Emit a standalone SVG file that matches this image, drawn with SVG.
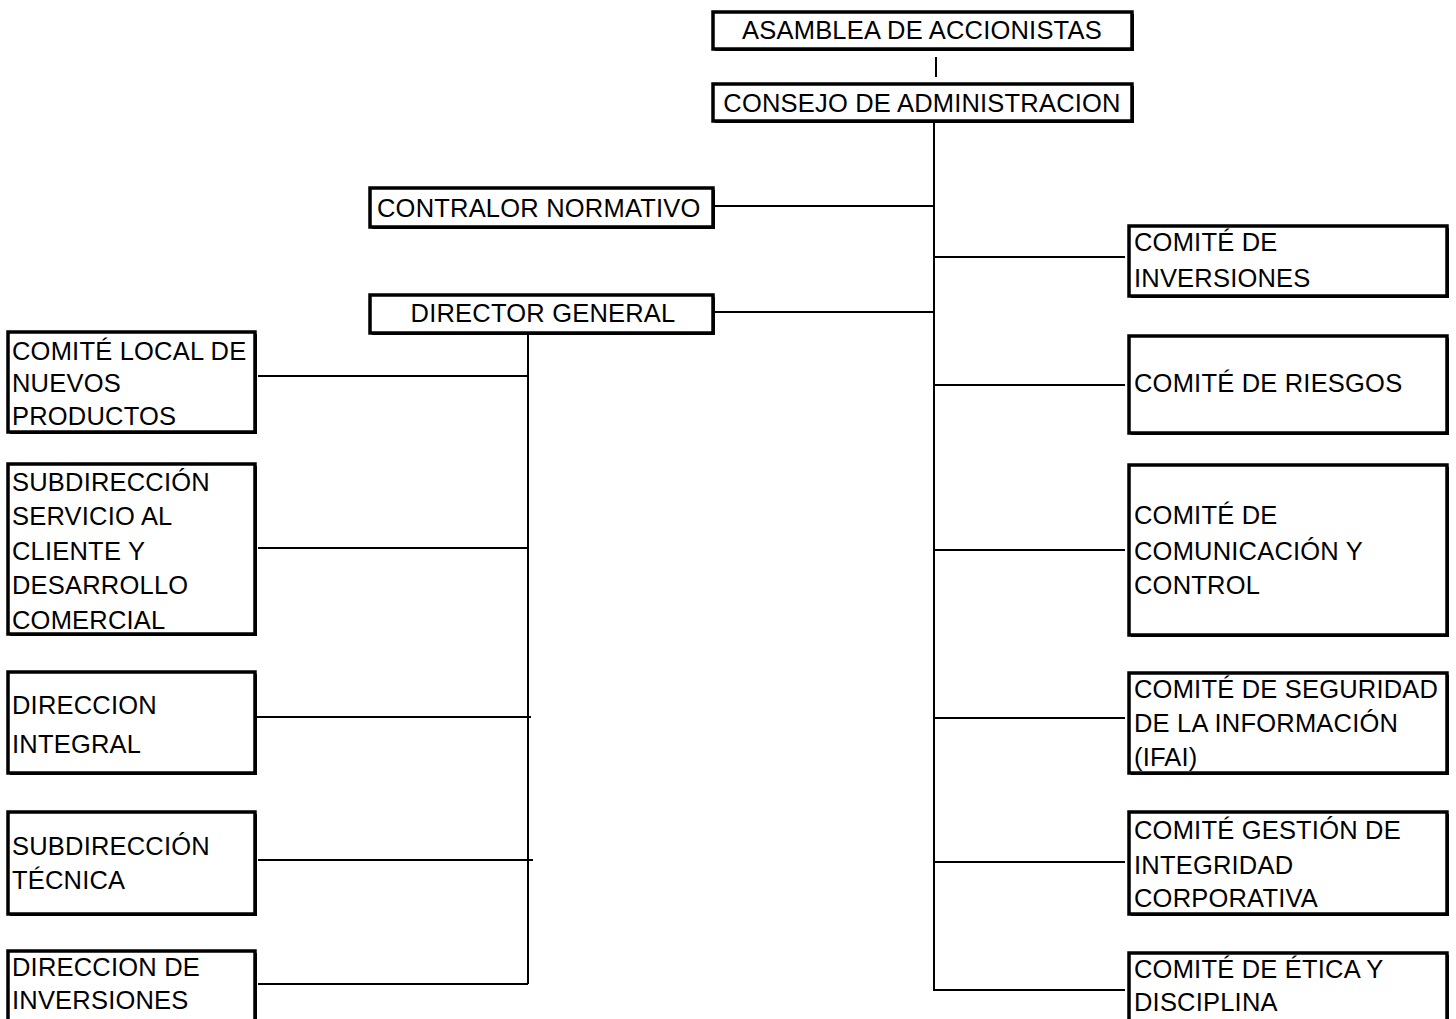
<svg xmlns="http://www.w3.org/2000/svg" width="1456" height="1019" viewBox="0 0 1456 1019">
<style>
.box{fill:#fff;stroke:#000;stroke-width:3.5}
.sh{fill:#000}
.t{font-family:"Liberation Sans",Arial,sans-serif;font-size:25.5px;letter-spacing:0.2px;fill:#000}
.c{text-anchor:middle}
.ln{stroke:#000;stroke-width:2;fill:none}
</style>
<rect width="1456" height="1019" fill="#fff"/>
<g id="connectors">
<line class="ln" x1="936" y1="57" x2="936" y2="77"/>
<polyline class="ln" points="934,123 934,990 1125,990"/>
<line class="ln" x1="705" y1="206" x2="934" y2="206"/>
<line class="ln" x1="715" y1="312" x2="934" y2="312"/>
<line class="ln" x1="934" y1="257" x2="1125" y2="257"/>
<line class="ln" x1="934" y1="385" x2="1125" y2="385"/>
<line class="ln" x1="934" y1="550" x2="1125" y2="550"/>
<line class="ln" x1="934" y1="718" x2="1125" y2="718"/>
<line class="ln" x1="934" y1="862" x2="1125" y2="862"/>
<line class="ln" x1="528" y1="335" x2="528" y2="984"/>
<line class="ln" x1="258" y1="376" x2="528" y2="376"/>
<line class="ln" x1="258" y1="548" x2="528" y2="548"/>
<line class="ln" x1="250" y1="717" x2="531" y2="717"/>
<line class="ln" x1="258" y1="860" x2="533" y2="860"/>
<line class="ln" x1="258" y1="984" x2="528" y2="984"/>
</g>
<g id="asamblea">
<rect class="sh" x="715" y="14" width="419" height="37"/>
<rect class="box" x="713" y="12" width="419" height="37"/>
<text class="t c" x="922" y="39">ASAMBLEA DE ACCIONISTAS</text>
</g>
<g id="consejo">
<rect class="sh" x="715" y="86" width="419" height="37"/>
<rect class="box" x="713" y="84" width="419" height="37"/>
<text class="t c" x="922" y="112">CONSEJO DE ADMINISTRACION</text>
</g>
<g id="contralor">
<rect class="sh" x="372" y="190" width="343" height="39"/>
<rect class="box" x="370" y="188" width="343" height="39"/>
<text class="t" x="377" y="217">CONTRALOR NORMATIVO</text>
</g>
<g id="director">
<rect class="sh" x="372" y="297" width="343" height="38"/>
<rect class="box" x="370" y="295" width="343" height="38"/>
<text class="t c" x="543" y="322">DIRECTOR GENERAL</text>
</g>
<g id="comite-local">
<rect class="sh" x="10" y="334" width="247" height="100"/>
<rect class="box" x="8" y="332" width="247" height="100"/>
<text class="t" x="12" y="360">COMITÉ LOCAL DE</text>
<text class="t" x="12" y="392">NUEVOS</text>
<text class="t" x="12" y="425">PRODUCTOS</text>
</g>
<g id="subdir-servicio">
<rect class="sh" x="10" y="466" width="247" height="170"/>
<rect class="box" x="8" y="464" width="247" height="170"/>
<text class="t" x="12" y="491">SUBDIRECCIÓN</text>
<text class="t" x="12" y="525">SERVICIO AL</text>
<text class="t" x="12" y="560">CLIENTE Y</text>
<text class="t" x="12" y="594">DESARROLLO</text>
<text class="t" x="12" y="629">COMERCIAL</text>
</g>
<g id="direccion-integral">
<rect class="sh" x="10" y="674" width="247" height="101"/>
<rect class="box" x="8" y="672" width="247" height="101"/>
<text class="t" x="12" y="714">DIRECCION</text>
<text class="t" x="12" y="753">INTEGRAL</text>
</g>
<g id="subdir-tecnica">
<rect class="sh" x="10" y="814" width="247" height="102"/>
<rect class="box" x="8" y="812" width="247" height="102"/>
<text class="t" x="12" y="855">SUBDIRECCIÓN</text>
<text class="t" x="12" y="889">TÉCNICA</text>
</g>
<g id="direccion-inversiones">
<rect class="sh" x="10" y="953" width="247" height="80"/>
<rect class="box" x="8" y="951" width="247" height="80"/>
<text class="t" x="12" y="976">DIRECCION DE</text>
<text class="t" x="12" y="1009">INVERSIONES</text>
</g>
<g id="comite-inversiones">
<rect class="sh" x="1131" y="228" width="318" height="70"/>
<rect class="box" x="1129" y="226" width="318" height="70"/>
<text class="t" x="1134" y="251">COMITÉ DE</text>
<text class="t" x="1134" y="287">INVERSIONES</text>
</g>
<g id="comite-riesgos">
<rect class="sh" x="1131" y="338" width="318" height="97"/>
<rect class="box" x="1129" y="336" width="318" height="97"/>
<text class="t" x="1134" y="392">COMITÉ DE RIESGOS</text>
</g>
<g id="comite-comunicacion">
<rect class="sh" x="1131" y="467" width="318" height="170"/>
<rect class="box" x="1129" y="465" width="318" height="170"/>
<text class="t" x="1134" y="524">COMITÉ DE</text>
<text class="t" x="1134" y="560">COMUNICACIÓN Y</text>
<text class="t" x="1134" y="594">CONTROL</text>
</g>
<g id="comite-seguridad">
<rect class="sh" x="1131" y="675" width="318" height="100"/>
<rect class="box" x="1129" y="673" width="318" height="100"/>
<text class="t" x="1134" y="698">COMITÉ DE SEGURIDAD</text>
<text class="t" x="1134" y="732">DE LA INFORMACIÓN</text>
<text class="t" x="1134" y="766">(IFAI)</text>
</g>
<g id="comite-gestion">
<rect class="sh" x="1131" y="814" width="318" height="102"/>
<rect class="box" x="1129" y="812" width="318" height="102"/>
<text class="t" x="1134" y="839">COMITÉ GESTIÓN DE</text>
<text class="t" x="1134" y="874">INTEGRIDAD</text>
<text class="t" x="1134" y="907">CORPORATIVA</text>
</g>
<g id="comite-etica">
<rect class="sh" x="1131" y="955" width="318" height="80"/>
<rect class="box" x="1129" y="953" width="318" height="80"/>
<text class="t" x="1134" y="978">COMITÉ DE ÉTICA Y</text>
<text class="t" x="1134" y="1011">DISCIPLINA</text>
</g>
</svg>
